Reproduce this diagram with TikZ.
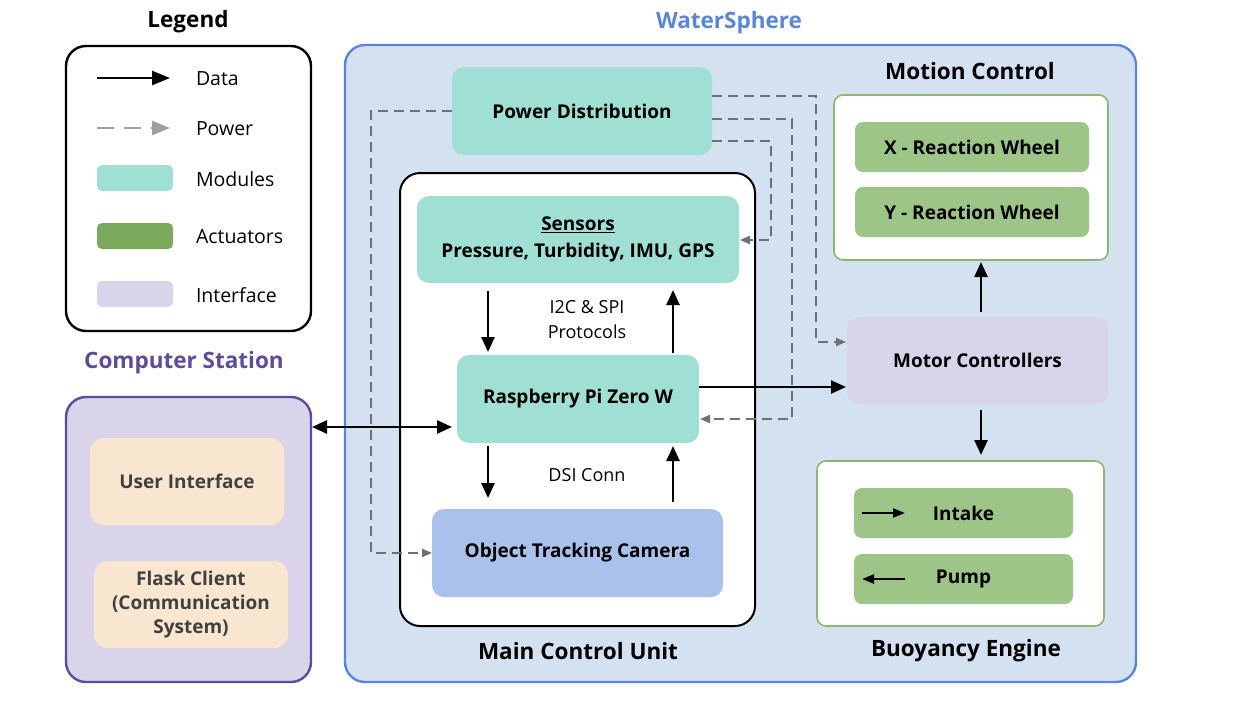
\documentclass[tikz,border=0pt]{standalone}
\usepackage{fontspec}
\setmainfont{Open Sans}
\usepackage{tikz}
\usetikzlibrary{arrows.meta,calc}
\definecolor{modteal}{HTML}{A0DFD3}
\definecolor{camblue}{HTML}{AAC1EC}
\definecolor{ifacelav}{HTML}{D9D4E9}
\definecolor{actgreen}{HTML}{7BA95E}
\definecolor{wheelgreen}{HTML}{9DC587}
\definecolor{boxgreen}{HTML}{8AB872}
\definecolor{peach}{HTML}{F8E6D0}
\definecolor{wsfill}{HTML}{D4E1F0}
\definecolor{wsblue}{HTML}{5B86D8}
\definecolor{cspurple}{HTML}{5E4B9B}
\definecolor{pwrgray}{HTML}{707070}
\tikzset{
  every node/.style={inner sep=0pt, outer sep=0pt},
  bigtitle/.style={font=\fontsize{22.5}{26}\selectfont\bfseries},
  boxtext/.style={font=\fontsize{19}{24}\selectfont\bfseries, align=center},
  plaintext/.style={font=\fontsize{18}{25}\selectfont, align=center},
  legtext/.style={font=\fontsize{19.5}{24}\selectfont, anchor=west},
  frame/.style={rounded corners=20pt, line width=2.4pt},
  module/.style={fill=modteal, rounded corners=12pt, boxtext},
  wheel/.style={fill=wheelgreen, rounded corners=8pt, boxtext,
    minimum width=234pt, minimum height=50pt},
  group/.style={fill=white, draw=boxgreen, line width=1.6pt, rounded corners=9pt},
  data/.style={line width=2.5pt, -{Triangle[length=15pt,width=13pt]}},
  power/.style={pwrgray, line width=2pt, dash pattern=on 10pt off 6pt,
    -{Triangle[length=10pt,width=8pt]}}
}
\begin{document}
\begin{tikzpicture}[x=1pt, y=-1pt]
\useasboundingbox (0,0) rectangle (1235,702);

% legend
\node[bigtitle] (legtitle) at (188,22) {Legend};
\node[frame, draw=black, minimum width=245pt, minimum height=285pt] (legend) at (188.5,188.5) {};
\coordinate (dataA) at (97,78);
\coordinate (dataB) at (170,78);
\draw[line width=2.5pt, -{Triangle[length=18pt,width=14pt]}] (dataA) -- (dataB);
\coordinate (pwrA) at (97,128);
\coordinate (pwrB) at (170,128);
\draw[gray!75, line width=2.5pt, dash pattern=on 17pt off 10pt,
  -{Triangle[length=18pt,width=14pt]}] (pwrA) -- (pwrB);
\node[fill=modteal, rounded corners=5pt, minimum width=76pt, minimum height=26pt] (legmod) at (135,178) {};
\node[fill=actgreen, rounded corners=5pt, minimum width=76pt, minimum height=26pt] (legact) at (135,236) {};
\node[fill=ifacelav, rounded corners=5pt, minimum width=76pt, minimum height=26pt] (legif) at (135,294) {};
\node[legtext] (ldata) at (196,79) {Data};
\node[legtext] (lpwr) at (196,129) {Power};
\node[legtext] (lmod) at (196,179) {Modules};
\node[legtext] (lact) at (196,237) {Actuators};
\node[legtext] (lif) at (196,295) {Interface};

% computer station
\node[bigtitle, text=cspurple] (cstitle) at (184,363) {Computer Station};
\node[frame, draw=cspurple, fill=ifacelav, minimum width=245pt, minimum height=285pt] (cs) at (188.5,539.5) {};
\node[fill=peach, rounded corners=14pt, boxtext, text=black!75, minimum width=194pt, minimum height=87pt] (ui) at (187,481.5) {User Interface};
\node[fill=peach, rounded corners=14pt, boxtext, text=black!75, minimum width=194pt, minimum height=87pt] (flask) at (191,604.5) {Flask Client\\(Communication\\System)};

% watersphere
\node[bigtitle, text=wsblue] (wstitle) at (729,23) {WaterSphere};
\node[frame, draw=wsblue, fill=wsfill, minimum width=791pt, minimum height=637pt] (ws) at (740.5,363.5) {};

\node[module, minimum width=260pt, minimum height=88pt] (pd) at (582,111) {Power Distribution};
\node[frame, draw=black, line width=2pt, fill=white, minimum width=355pt, minimum height=453pt] (mcu) at (577.5,399.5) {};
\node[bigtitle] (mcutitle) at (578,651) {Main Control Unit};
\node[module, font=\fontsize{19}{27}\selectfont\bfseries, minimum width=322pt, minimum height=87pt] (sens) at (578,239.5) {\underline{Sensors}\\Pressure, Turbidity, IMU, GPS};
\node[module, minimum width=242pt, minimum height=88pt] (pi) at (578,399) {Raspberry Pi Zero W};
\node[module, fill=camblue, minimum width=291pt, minimum height=88pt] (cam) at (577.5,553) {Object Tracking Camera};
\node[plaintext] (i2c) at (587,320) {I2C \& SPI\\Protocols};
\node[plaintext] (dsi) at (587,475) {DSI Conn};

% motion control
\node[bigtitle] (motiontitle) at (970,71) {Motion Control};
\node[group, minimum width=274pt, minimum height=165pt] (motion) at (971,177.5) {};
\node[wheel] (xrw) at (972,147) {X - Reaction Wheel};
\node[wheel] (yrw) at (972,212) {Y - Reaction Wheel};
\node[module, fill=ifacelav, minimum width=261pt, minimum height=87pt] (mc) at (977.5,360.5) {Motor Controllers};

% buoyancy engine
\node[group, minimum width=287pt, minimum height=165pt] (buoy) at (960.5,543.5) {};
\node[bigtitle] (buoytitle) at (966,651) {Buoyancy Engine};
\node[wheel, minimum width=219pt] (intake) at (963.5,513) {Intake};
\node[wheel, minimum width=219pt] (pump) at (963.5,579) {Pump};
\draw[line width=2.3pt, -{Triangle[length=12pt,width=9pt]}] ([xshift=8pt]intake.west) -- ([xshift=51pt]intake.west);
\draw[line width=2.3pt, -{Triangle[length=12pt,width=9pt]}] ([xshift=51pt]pump.west) -- ([xshift=8pt]pump.west);

% data links
\draw[data, shorten <=8pt, shorten >=3pt] ([xshift=31pt]pi.north west |- sens.south) -- ([xshift=31pt]pi.north west);
\draw[data, shorten <=2pt, shorten >=7pt] ([xshift=-26pt]pi.north east) -- ([xshift=-26pt]pi.north east |- sens.south);
\draw[data, shorten <=3pt, shorten >=11pt] ([xshift=31pt]pi.south west) -- ([xshift=31pt]pi.south west |- cam.north);
\draw[data, shorten <=7pt, shorten >=3pt] ([xshift=-26pt]pi.south east |- cam.north) -- ([xshift=-26pt]pi.south east);
\draw[data, shorten >=1pt] ([yshift=12pt]pi.east) -- ([yshift=12pt]pi.east -| mc.west);
\draw[line width=2.5pt, {Triangle[length=15pt,width=13pt]}-{Triangle[length=15pt,width=13pt]}, shorten >=5pt, shorten <=1pt] ([yshift=-28pt]pi.west -| cs.east) -- ([yshift=-28pt]pi.west);
\draw[data, shorten <=5pt, shorten >=2pt] ([xshift=3.5pt]mc.north) -- ([xshift=3.5pt]mc.north |- motion.south);
\draw[data, shorten <=6pt, shorten >=6pt] ([xshift=3.5pt]mc.south) -- ([xshift=3.5pt]mc.south |- buoy.north);

% power links
\draw[power] (pd.west) -- ++(-81,0) |- (cam.west);
\draw[power, shorten >=1pt] ([yshift=15pt]pd.east) -- ++(104,0) |- ([yshift=18.5pt]mc.west);
\draw[power, shorten >=1pt] ([yshift=-8pt]pd.east) -- ++(80,0) |- ([yshift=-20pt]pi.east);
\draw[power, shorten >=1pt] ([yshift=-30pt]pd.east) -- ++(59,0) |- ([yshift=-0.5pt]sens.east);
\end{tikzpicture}
\end{document}
